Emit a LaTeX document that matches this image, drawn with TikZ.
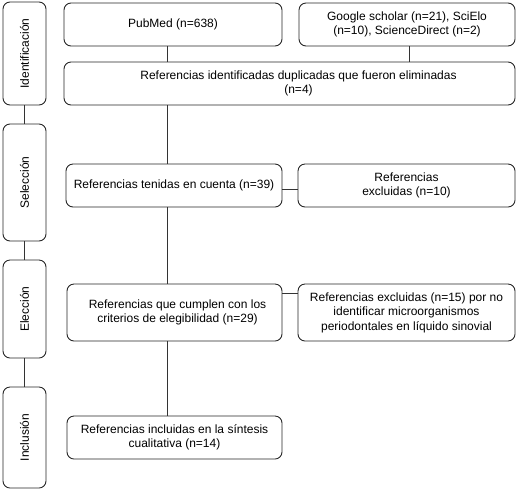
\documentclass[tikz,border=0pt]{standalone}
\usepackage{fontspec}
\setmainfont{Liberation Sans}
\begin{document}
\begin{tikzpicture}[x=1pt,y=-1pt,
  box/.style={draw=black!85, line width=0.9pt, rounded corners=7pt, align=center, inner sep=2pt,
    font=\fontsize{12}{14.5}\selectfont},
  side/.style={box, minimum width=43pt},
  conn/.style={draw=black!80, line width=0.9pt}]
\useasboundingbox (0,0) rectangle (518,491);
% side stage boxes
\node[side, minimum height=103pt] (id)  at (24.5,53.5)  {\rotatebox{90}{Identificación}};
\node[side, minimum height=117pt] (sel) at (24.5,182.5) {\rotatebox{90}{Selección}};
\node[side, minimum height=98pt]  (ele) at (24.5,309)   {\rotatebox{90}{Elección}};
\node[side, minimum height=101pt] (inc) at (24.5,437.5) {\rotatebox{90}{Inclusión}};
\draw[conn] (id.south) -- (sel.north);
\draw[conn] (sel.south) -- (ele.north);
\draw[conn] (ele.south) -- (inc.north);
% main boxes
\node[box, minimum width=218pt, minimum height=43pt] (pubmed) at (173,24.5) {PubMed (n=638)};
\node[box, minimum width=216pt, minimum height=43pt] (google) at (407,24.5) {Google scholar (n=21), SciElo\\(n=10), ScienceDirect (n=2)};
\node[box, minimum width=451pt, minimum height=43pt] (dup) at (289.5,83.5) {\hspace*{18pt}Referencias identificadas duplicadas que fueron eliminadas\\\hspace*{18pt}(n=4)};
\node[box, minimum width=216pt, minimum height=43pt] (ten) at (174,185.5) {Referencias tenidas en cuenta (n=39)};
\node[box, minimum width=217pt, minimum height=43pt] (exc10) at (406.5,185.5) {Referencias\\excluidas (n=10)};
\node[box, minimum width=215pt, minimum height=57pt] (eleg) at (174.5,312.5) {\hspace*{6pt}Referencias que cumplen con los\\\hspace*{6pt}criterios de elegibilidad (n=29)};
\node[box, minimum width=217pt, minimum height=57pt] (exc15) at (406.5,312.5) {Referencias excluidas (n=15) por no\\identificar microorganismos\\periodontales en líquido sinovial};
\node[box, minimum width=215pt, minimum height=43pt] (inc2) at (174.5,437.5) {Referencias incluidas en la síntesis\\cualitativa (n=14)};
% connectors
\coordinate (sp) at (167,0);
\coordinate (gx) at (409,0);
\coordinate (h1) at (0,189);
\coordinate (h2) at (0,293);
\draw[conn] (sp |- pubmed.south) -- (sp |- dup.north);
\draw[conn] (gx |- google.south) -- (gx |- dup.north);
\draw[conn] (sp |- dup.south) -- (sp |- ten.north);
\draw[conn] (ten.east |- h1) -- (exc10.west |- h1);
\draw[conn] (sp |- ten.south) -- (sp |- eleg.north);
\draw[conn] (eleg.east |- h2) -- (exc15.west |- h2);
\draw[conn] (sp |- eleg.south) -- (sp |- inc2.north);
\end{tikzpicture}
\end{document}
